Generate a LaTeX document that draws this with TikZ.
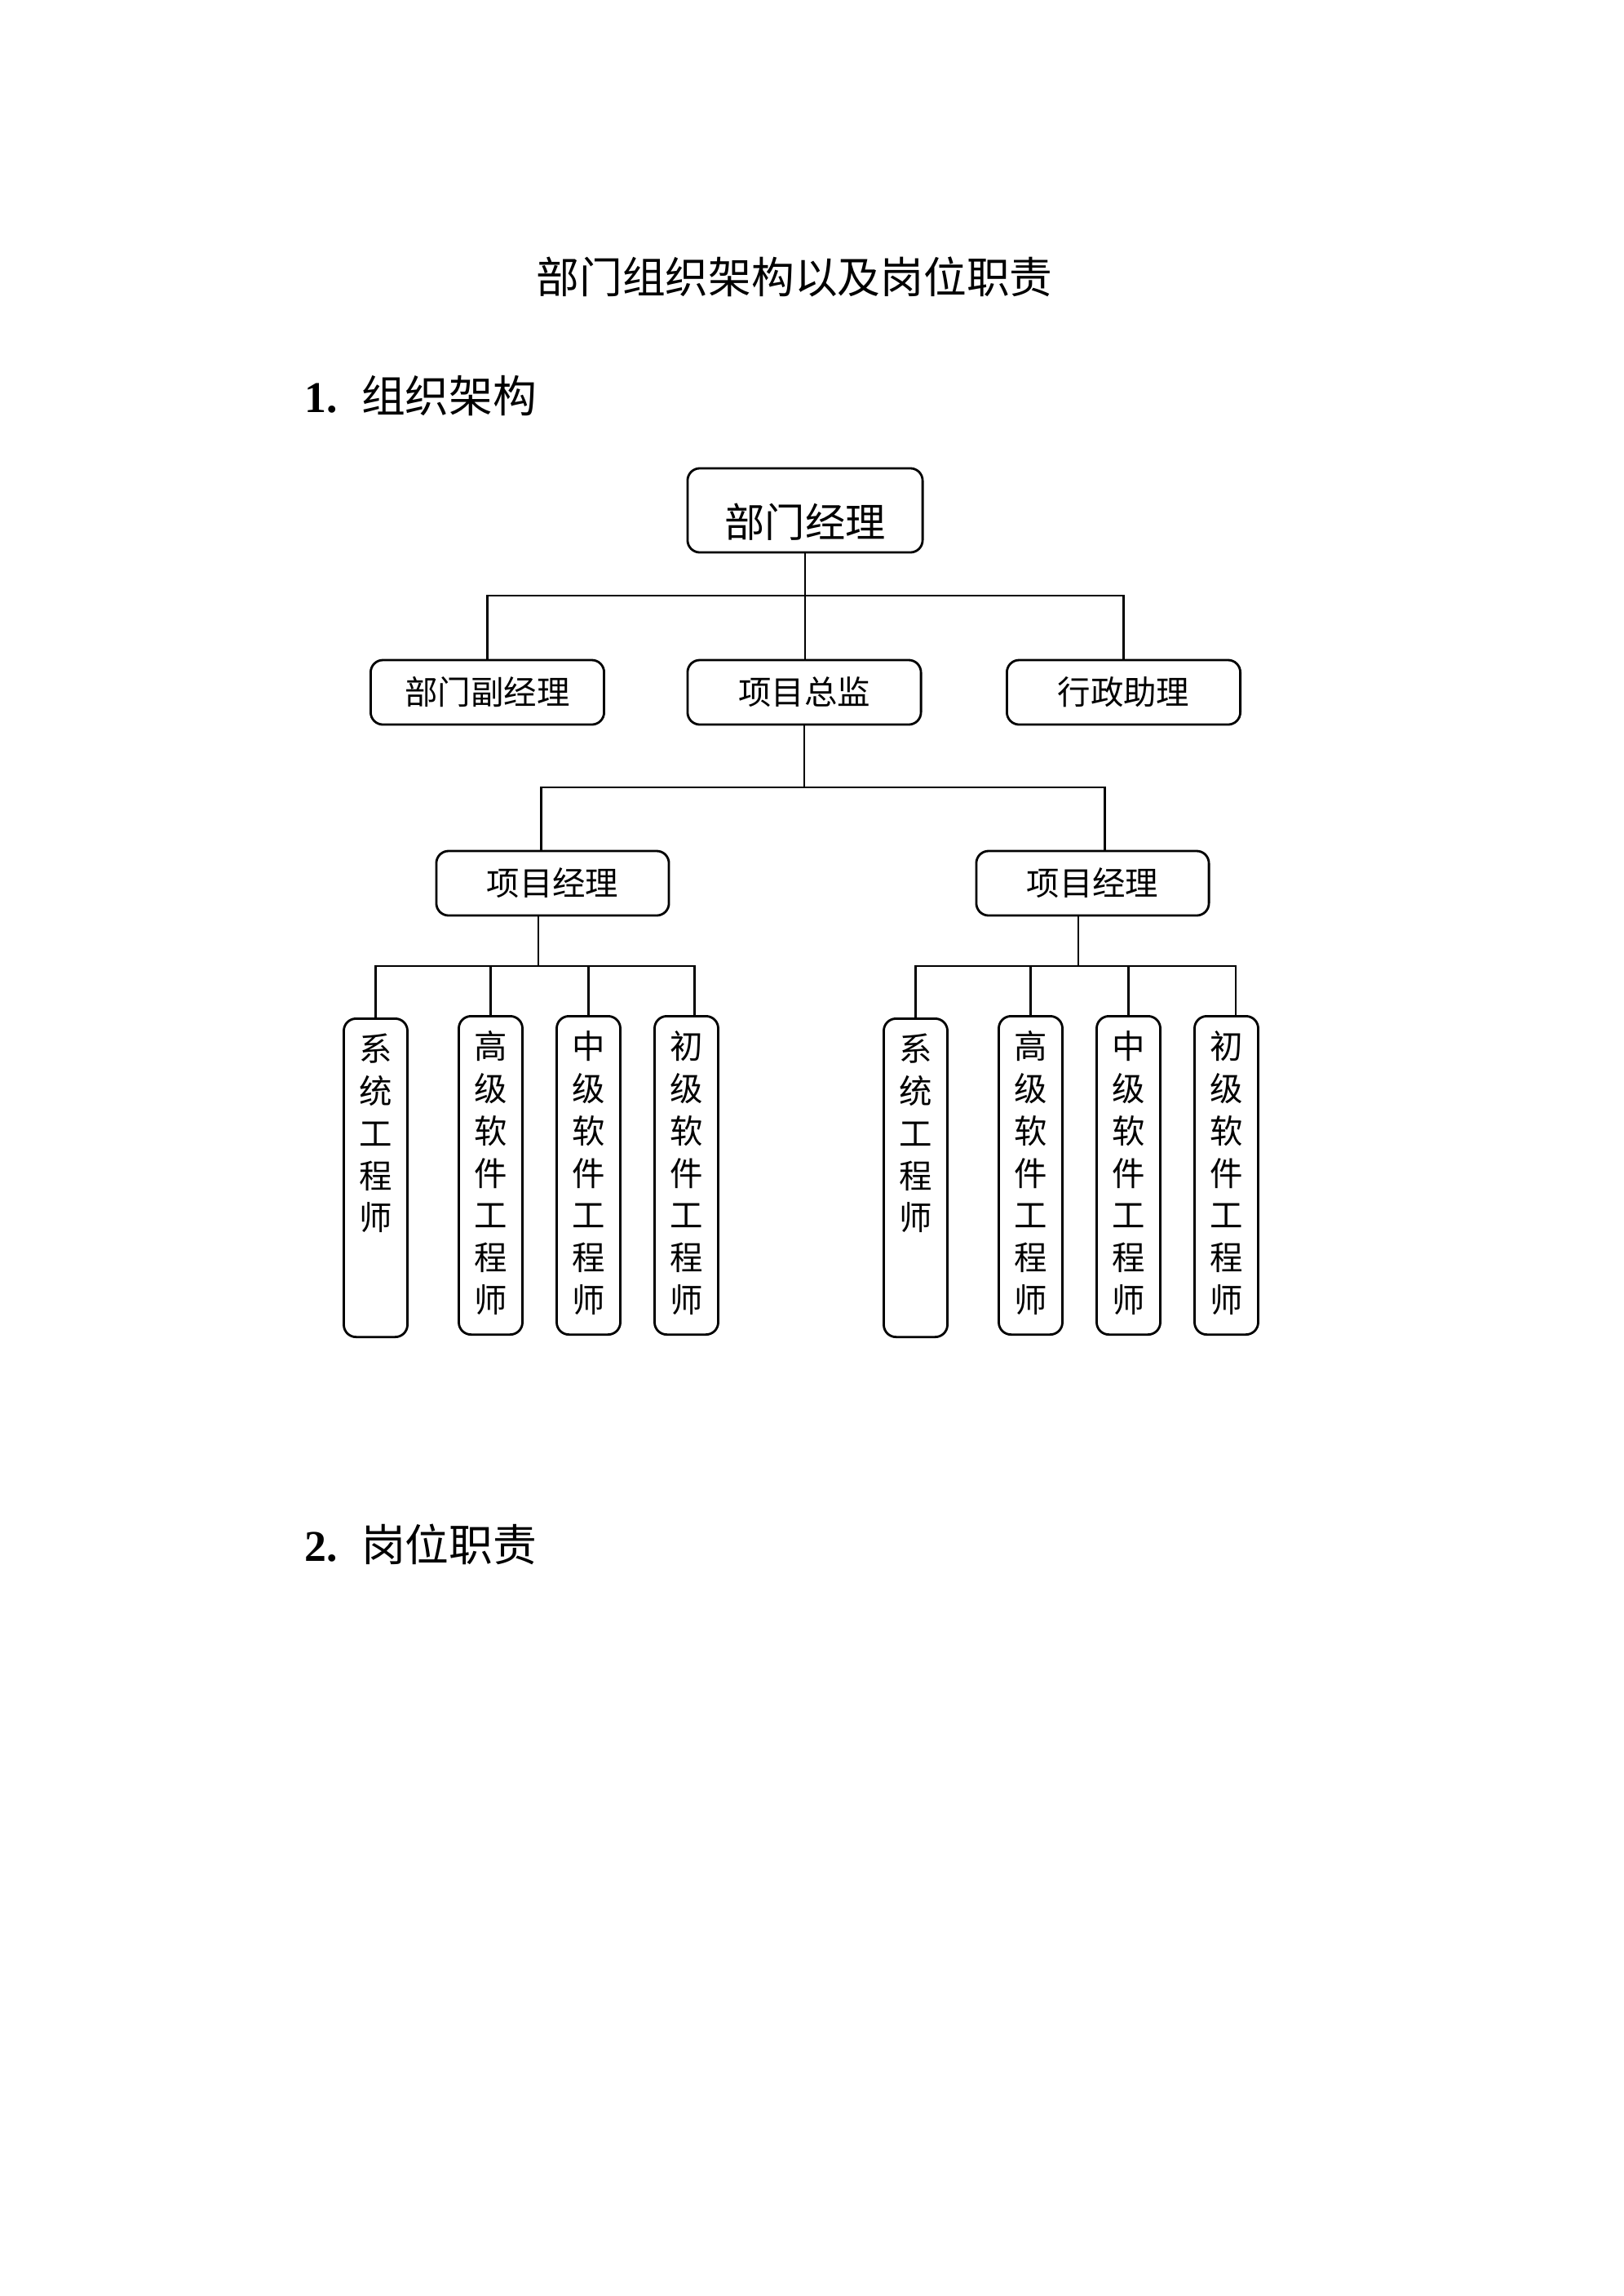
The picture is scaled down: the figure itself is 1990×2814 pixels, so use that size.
\documentclass[tikz,border=0pt]{standalone}
\usepackage{fontspec}
\setmainfont{Liberation Serif}
\newfontfamily\cjk{Noto Sans CJK SC}

\begin{document}
\begin{tikzpicture}[x=0.01cm, y=-0.01cm,
    box/.style={draw, rounded corners=0.15cm, line width=0.8pt, inner sep=0pt,
      minimum width=2.86cm, minimum height=0.79cm, font=\cjk\fontsize{11.5}{14}\selectfont},
    topbox/.style={box, minimum width=2.88cm, minimum height=1.03cm, text height=0.70cm, text depth=0.05cm,
      font=\cjk\fontsize{14}{17}\selectfont},
    engbox/.style={draw, rounded corners=0.15cm, line width=0.8pt, anchor=north,
      inner xsep=0pt, inner ysep=0.16cm, text width=0.78cm, align=center,
      text height=0.36cm, text depth=3.22cm, font=\cjk\fontsize{11.5}{14.75}\selectfont},
    heading/.style={anchor=base west, inner sep=0pt, font=\fontsize{15.3}{18}\selectfont},
    link/.style={line width=0.7pt}]
    % page = 1990 x 2814 px
    \useasboundingbox (0,0) rectangle (1990,2814);

    \node[anchor=base, font=\cjk\fontsize{15}{18}\selectfont] (title) at (974,359) {部门组织架构以及岗位职责};
    \node[heading] (sec1) at (373,505) {\textbf{1.}\hspace{0.29cm}{\cjk 组织架构}};
    \node[heading] (sec2) at (373,1913) {\textbf{2.}\hspace{0.29cm}{\cjk 岗位职责}};

    \node[topbox] (dm) at (987,625.5) {部门经理};
    \node[box] (dfm) at (597.5,848.5) {部门副经理};
    \node[box] (zj) at (986,848.5) {项目总监};
    \node[box] (xz) at (1377.5,848.5) {行政助理};
    \node[box, minimum width=2.85cm] (pm1) at (677.5,1082.5) {项目经理};
    \node[box, minimum width=2.85cm] (pm2) at (1339.5,1082.5) {项目经理};

    % engineers, left team
    \node[engbox] (s1) at (460.5,1247) {系\\统\\工\\程\\师};
    \node[engbox] (g1) at (601.5,1244) {高\\级\\软\\件\\工\\程\\师};
    \node[engbox] (z1) at (721.5,1244) {中\\级\\软\\件\\工\\程\\师};
    \node[engbox] (c1) at (841.5,1244) {初\\级\\软\\件\\工\\程\\师};
    % engineers, right team
    \node[engbox] (s2) at (1122.5,1247) {系\\统\\工\\程\\师};
    \node[engbox] (g2) at (1263.5,1244) {高\\级\\软\\件\\工\\程\\师};
    \node[engbox] (z2) at (1383.5,1244) {中\\级\\软\\件\\工\\程\\师};
    \node[engbox] (c2) at (1503.5,1244) {初\\级\\软\\件\\工\\程\\师};

    \coordinate (busA) at (0,730);
    \coordinate (busB) at (0,965);
    \coordinate (busC) at (0,1184);
    \coordinate (pm1top) at ([xshift=-0.14cm]pm1.north);
    \coordinate (pm2top) at ([xshift=0.15cm]pm2.north);
    \coordinate (pm1bot) at ([xshift=-0.175cm]pm1.south);
    \coordinate (pm2bot) at ([xshift=-0.175cm]pm2.south);
    \coordinate (c1top) at ([xshift=0.1cm]c1.north);
    \coordinate (c2top) at ([xshift=0.115cm]c2.north);

    \draw[link] (dm.south) -- (dm.south |- zj.north);
    \draw[link] (dfm.north) -- (dfm.north |- busA) -- (xz.north |- busA) -- (xz.north);

    \draw[link] (zj.south) -- (zj.south |- busB);
    \draw[link] (pm1top) -- (pm1top |- busB) -- (pm2top |- busB) -- (pm2top);

    \draw[link] (pm1bot) -- (pm1bot |- busC);
    \draw[link] (s1.north) -- (s1.north |- busC) -- (c1top |- busC) -- (c1top);
    \draw[link] (g1.north) -- (g1.north |- busC);
    \draw[link] (z1.north) -- (z1.north |- busC);

    \draw[link] (pm2bot) -- (pm2bot |- busC);
    \draw[link] (s2.north) -- (s2.north |- busC) -- (c2top |- busC) -- (c2top);
    \draw[link] (g2.north) -- (g2.north |- busC);
    \draw[link] (z2.north) -- (z2.north |- busC);
\end{tikzpicture}
\end{document}
